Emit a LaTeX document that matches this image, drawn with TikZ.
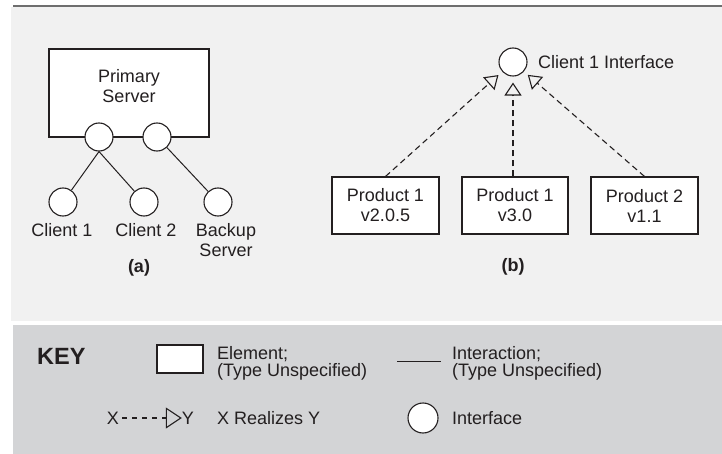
\documentclass[tikz,border=0pt]{standalone}
\usepackage{fontspec}
\setmainfont{Liberation Sans}
\usetikzlibrary{arrows.meta}
\definecolor{panel}{HTML}{F1F1F1}
\definecolor{keypanel}{HTML}{D3D4D6}
\definecolor{rulegray}{HTML}{6E6E6E}
\definecolor{ink}{HTML}{231F20}
\tikzset{
  every node/.style={inner sep=0pt, text=ink},
  elem/.style={draw=ink, fill=white, line width=1.1pt, align=center},
  iface/.style={circle, draw=ink, fill=white, line width=1.1pt, minimum size=28pt},
  link/.style={draw=ink, line width=1pt},
  realize/.style={draw=ink, line width=1.1pt, dash pattern=on 6pt off 4pt,
    -{Triangle[open, length=13pt, width=17pt]}},
}

\begin{document}
\begin{tikzpicture}[x=1pt, y=-1pt, font=\fontsize{18}{20}\selectfont]
      \useasboundingbox (0,0) rectangle (722,454);
      \fill[panel] (11,7) rectangle (722,321);
      \fill[keypanel] (13,325) rectangle (722,454);
      \draw[rulegray, line width=2pt] (13,6.5) -- (722,6.5);
      % (a)
      \node[elem, minimum width=160pt, minimum height=88pt] (psrv) at (129,93) {};
      \node[align=center] (psrvtxt) at (129,86) {Primary\\Server};
      \node[iface] (s1) at (99,137) {};
      \node[iface] (s2) at (157,137) {};
      \node[iface] (c1) at (63,202) {};
      \node[iface] (c2) at (144,202) {};
      \node[iface] (bk) at (218,202) {};
      \draw[link] (s1.south) -- (c1);
      \draw[link] (s1.south) -- (c2);
      \draw[link] (s2) -- (bk);
      \node (c1txt) at (62,230) {Client 1};
      \node (c2txt) at (146,230) {Client 2};
      \node[align=center] (bktxt) at (226,240) {Backup\\Server};
      \node[font=\fontsize{18}{20}\selectfont\bfseries] (capa) at (139,268) {(a)};
      % (b)
      \node[iface] (ci) at (513,62) {};
      \node[anchor=west] (citxt) at (538,62) {Client 1 Interface};
      \node[elem, minimum width=107pt, minimum height=57pt] (p1) at (385.5,205.5) {Product 1\\v2.0.5};
      \node[elem, minimum width=106pt, minimum height=57pt] (p2) at (515,205.5) {Product 1\\v3.0};
      \node[elem, minimum width=107pt, minimum height=57pt] (p3) at (644.5,205.5) {Product 2\\v1.1};
      \draw[realize, shorten >=5pt] (p1.north) -- (ci);
      \draw[realize, shorten >=6pt] (p2.north -| ci) -- (ci);
      \draw[realize, shorten >=5pt] (p3.north) -- (ci);
      \node[font=\fontsize{18}{20}\selectfont\bfseries] (capb) at (513,267) {(b)};
      % key
      \node[anchor=west, font=\fontsize{23.5}{24}\selectfont\bfseries] (key) at (37,356.5) {KEY};
      \node[elem, minimum width=46pt, minimum height=28pt] (kelem) at (180,359) {};
      \node[anchor=west, align=left, font=\fontsize{18}{17}\selectfont] (kelemtxt) at (217,363) {Element;\\(Type Unspecified)};
      \coordinate (kl1) at (397,361);
      \coordinate (kl2) at (441,361);
      \draw[link] (kl1) -- (kl2);
      \node[anchor=west, align=left, font=\fontsize{18}{17}\selectfont] (klinetxt) at (452,363) {Interaction;\\(Type Unspecified)};
      \node (kx) at (113,418) {X};
      \node (ky) at (188,418) {Y};
      \draw[realize, dash pattern=on 5pt off 5pt, shorten <=3pt,
        -{Triangle[open, length=16pt, width=21pt]}] (kx) -- (ky);
      \node[anchor=west] (krealtxt) at (217,418) {X Realizes Y};
      \node[iface, minimum size=30pt] (kiface) at (423,418) {};
      \node[anchor=west] (kifacetxt) at (452,418) {Interface};
    \end{tikzpicture}
\end{document}
